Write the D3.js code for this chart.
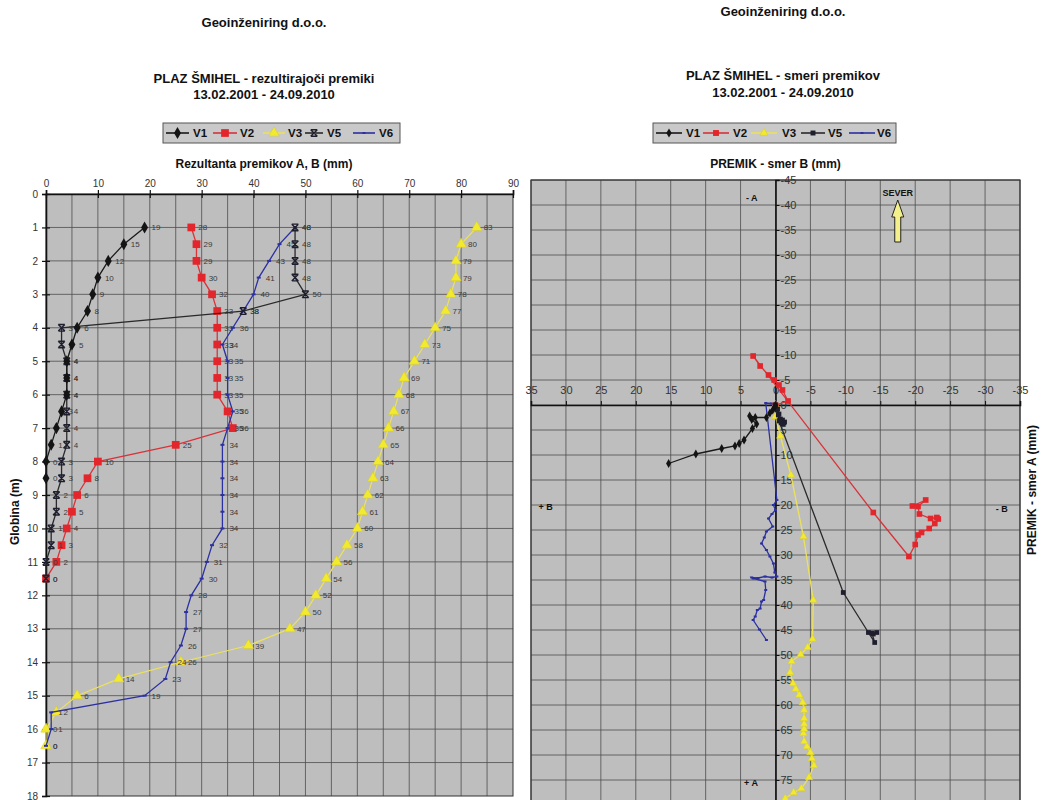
<!DOCTYPE html>
<html>
<head>
<meta charset="utf-8">
<script src="https://cdn.jsdelivr.net/npm/d3@7"></script>
<style>
  body { margin: 0; background: #fff; }
  svg { display: block; font-family: "Liberation Sans", Arial, sans-serif; }
</style>
</head>
<body>
<svg id="chart" width="1044" height="800"></svg>
<script>
// ---- left chart: resultant displacement (mm) per depth, depths start at 1 m, step 0.5 m
const depthStart = 1;
const depthStep = 0.5;
const v1Res = [19, 15, 12, 10, 9, 8, 6, 5, 4, 4, 4, 3, 2, 1, 0, 0];
const v2Res = [28, 29, 29, 30, 32, 33, 33, 33, 33, 33, 33, 35, 36, 25, 10, 8, 6, 5, 4, 3, 2, 0];
const v3Res = [83, 80, 79, 79, 78, 77, 75, 73, 71, 69, 68, 67, 66, 65, 64, 63, 62, 61, 60, 58, 56, 54, 52, 50, 47, 39, 26, 14, 6, 2, 0, 0];
const v5Res = [48, 48, 48, 48, 50, 38, 3, 3, 4, 4, 4, 4, 4, 4, 3, 3, 2, 2, 1, 1, 0, 0];
const v6Res = [48, 45, 43, 41, 40, 38, 36, 34, 35, 35, 35, 36, 35, 34, 34, 34, 34, 34, 34, 32, 31, 30, 28, 27, 27, 26, 24, 23, 19, 1, 1, 0];

// ---- right chart: direction B (mm) and A (mm) for the same depths
const v1B = [15.3, 11.4, 7.7, 5.8, 5.2, 4.5, 3.3, 2.7, 3.4, 3.7, 2.9, 1.3, 0.8, 0.4, 0.1, 0];
const v1A = [11.7, 9.8, 8.7, 8.2, 7.7, 7.0, 4.7, 3.8, 2.9, 2.2, 2.5, 2.5, 1.6, 1.0, 0.4, 0];
const v2B = [-19.6, -21.5, -20.4, -20.6, -22.2, -23.1, -23.3, -22.8, -22.0, -20.9, -20.4, -20.0, -19.1, -14.0, 3.2, 2.2, 1.0, 0.2, -0.5, -1.0, -1.8, 0];
const v2A = [20.2, 19.0, 20.3, 21.8, 22.7, 22.5, 22.8, 23.7, 24.7, 25.5, 26.0, 27.9, 30.3, 21.5, -9.8, -7.8, -6.0, -5.0, -4.0, -3.0, -0.8, 0];
const v3B = [0.5, -0.5, -1.4, -2.6, -3.7, -4.8, -5.5, -5.2, -5.0, -4.5, -4.1, -4.0, -4.1, -4.1, -4.1, -4.1, -3.9, -3.4, -2.9, -2.5, -2.1, -2.3, -3.6, -4.6, -5.3, -5.4, -4.0, -2.2, -0.7, 0, 0, 0];
const v3A = [83, 80, 78.7, 77.5, 76.7, 74.5, 72.1, 70.7, 69.5, 68.3, 67.3, 65.7, 64.8, 63.8, 62.7, 61.0, 59.5, 58.0, 56.8, 55.7, 53.5, 51.3, 49.9, 48.5, 46.8, 39.0, 26.3, 14.0, 6.2, 2.3, 0.5, 0];
const v5B = [-13.3, -14.5, -14.0, -13.8, -14.2, -9.7, -0.5, -1.0, -1.2, -1.0, -1.3, -0.9, -1.1, -0.8, -0.6, -0.7, -0.4, -0.5, -0.2, -0.3, 0, 0];
const v5A = [45.5, 45.5, 45.8, 45.6, 47.5, 37.5, 3.2, 3.0, 3.6, 3.8, 3.4, 3.6, 3.7, 3.5, 3.0, 2.8, 2.0, 1.8, 1.0, 0.8, 0.3, 0];
const v6B = [1.3, 2.3, 3.2, 2.9, 2.6, 2.2, 2.0, 1.7, 1.4, 1.5, 3.2, 3.4, 2.5, 1.5, 0.5, -0.2, 0.1, 0.3, 0.8, 1.3, 2.0, 1.6, 1.3, 0.4, 1.0, 0.5, 0.0, 0.3, -0.2, 1.4, 0.6, 0];
const v6A = [47.0, 44.9, 43.0, 42.3, 41.0, 40.7, 39.3, 39.0, 37.0, 35.3, 34.7, 34.5, 34.6, 34.3, 34.5, 34.3, 33.5, 31.7, 30.3, 29.0, 27.7, 26.5, 25.3, 24.3, 22.7, 21.8, 21.0, 20.0, 19.0, -0.4, -0.3, 0];

const seriesNames = ['V1', 'V2', 'V3', 'V5', 'V6'];
const leftXTicks = d3.range(0, 91, 10);
const leftYTicks = d3.range(0, 19, 1);
const rightTicksB = d3.range(-35, 36, 5);
const rightTicksA = d3.range(-45, 81, 5);

(() => {
  const svg = d3.select('#chart');
  const plotFill = '#bebebe';
  const gridColor = '#4d4d4d';
  const tickColor = '#333';

  const colors = { V1: '#141414', V2: '#e3262b', V3: '#f2ea2e', V5: '#1e1e2e', V6: '#2c30a0' };
  const lineColors = { V1: '#1a1a1a', V2: '#d9333a', V3: '#ece25a', V5: '#2a2a2a', V6: '#2c30a0' };

  const depthOf = (i) => depthStart + i * depthStep;

  // ---------- marker shapes ----------
  function marker(g, name, size) {
    const c = colors[name];
    if (name === 'V1') {
      g.append('path').attr('d', d3.symbol().type(d3.symbolDiamond).size(size * 7)).attr('fill', c);
    } else if (name === 'V2') {
      g.append('path').attr('d', d3.symbol().type(d3.symbolSquare).size(size * 10)).attr('fill', c);
    } else if (name === 'V3') {
      g.append('path').attr('d', d3.symbol().type(d3.symbolTriangle).size(size * 8))
        .attr('fill', c).attr('stroke', '#d8cc20').attr('stroke-width', 0.5);
    } else if (name === 'V5') {
      if (size > 4) {
        const s = size * 0.55;
        g.append('path')
          .attr('d', `M${-s},${-s}L${s},${s}M${s},${-s}L${-s},${s}M${-s},${-s}H${s}M${-s},${s}H${s}`)
          .attr('stroke', c).attr('stroke-width', 1.4).attr('fill', 'none');
      } else {
        g.append('path').attr('d', d3.symbol().type(d3.symbolSquare).size(size * 7)).attr('fill', c);
      }
    } else {
      g.append('rect').attr('x', -size * 0.5).attr('y', -1).attr('width', size).attr('height', 2).attr('fill', c);
    }
  }

  // ---------- titles ----------
  function title(x, y, text, size) {
    svg.append('text').attr('x', x).attr('y', y).attr('text-anchor', 'middle')
      .attr('font-size', size).attr('font-weight', 'bold').attr('fill', '#111').text(text);
  }
  title(264, 27, 'Geoinženiring d.o.o.', 13);
  title(264, 83, 'PLAZ ŠMIHEL - rezultirajoči premiki', 13);
  title(264, 99, '13.02.2001 - 24.09.2010', 13);
  title(783, 16, 'Geoinženiring d.o.o.', 13);
  title(783, 80, 'PLAZ ŠMIHEL - smeri premikov', 13);
  title(783, 97, '13.02.2001 - 24.09.2010', 13);

  // ---------- legends ----------
  function legend(x0, x1, y0, itemX, itemW, textX, markerSize) {
    const g = svg.append('g');
    g.append('rect').attr('x', x0).attr('y', y0).attr('width', x1 - x0).attr('height', 20)
      .attr('fill', '#c9c9c9').attr('stroke', '#555').attr('stroke-width', 1);
    seriesNames.forEach((name, i) => {
      const cy = y0 + 10;
      const w = itemW[i];
      g.append('line').attr('x1', itemX[i]).attr('x2', itemX[i] + w).attr('y1', cy).attr('y2', cy)
        .attr('stroke', lineColors[name]).attr('stroke-width', 1.6);
      marker(g.append('g').attr('transform', `translate(${itemX[i] + w / 2},${cy})`), name,
        name === 'V6' ? 3 : markerSize);
      g.append('text').attr('x', textX[i]).attr('y', cy + 4).attr('font-size', 11.5)
        .attr('font-weight', 'bold').attr('fill', '#111').text(name);
    });
  }
  legend(163, 400, 123, [166, 213, 263, 305, 353], [23, 24, 22, 18, 22], [193, 240, 288, 327, 379], 6);
  legend(653, 896, 123, [656, 703, 751, 801, 849], [26, 26, 26, 24, 26], [686, 733, 782, 828, 877], 3.5);

  // =============== LEFT CHART ===============
  const xL = d3.scaleLinear().domain([0, 90]).range([46, 513]);
  const yL = d3.scaleLinear().domain([0, 18]).range([194, 796]);

  const gL = svg.append('g');
  gL.append('rect').attr('x', xL(0)).attr('y', yL(0)).attr('width', xL(90) - xL(0)).attr('height', yL(18) - yL(0))
    .attr('fill', plotFill);
  gL.append('g').selectAll('line').data(d3.range(5, 90, 5)).join('line')
    .attr('x1', (d) => xL(d)).attr('x2', (d) => xL(d)).attr('y1', yL(0)).attr('y2', yL(18))
    .attr('stroke', gridColor).attr('stroke-width', 0.8);
  gL.append('g').selectAll('line').data(d3.range(1, 18, 1)).join('line')
    .attr('x1', xL(0)).attr('x2', xL(90)).attr('y1', (d) => yL(d)).attr('y2', (d) => yL(d))
    .attr('stroke', gridColor).attr('stroke-width', 0.8);
  gL.append('rect').attr('x', xL(0)).attr('y', yL(0)).attr('width', xL(90) - xL(0)).attr('height', yL(18) - yL(0))
    .attr('fill', 'none').attr('stroke', '#333').attr('stroke-width', 1);

  const axTop = gL.append('g').attr('transform', `translate(0,${yL(0)})`)
    .call(d3.axisTop(xL).tickValues(leftXTicks).tickSize(4).tickPadding(3).tickFormat((d) => String(d)));
  const axLeft = gL.append('g').attr('transform', `translate(${xL(0)},0)`)
    .call(d3.axisLeft(yL).tickValues(leftYTicks).tickSize(4).tickPadding(4).tickFormat((d) => String(d)));
  [axTop, axLeft].forEach((ax) => {
    ax.select('.domain').attr('stroke', '#111').attr('stroke-width', 1.6);
    ax.selectAll('.tick line').attr('stroke', '#111').attr('stroke-width', 1.2);
    ax.selectAll('.tick text').attr('fill', tickColor).attr('font-size', 10).attr('font-family', null);
  });
  axTop.selectAll('.tick line').attr('y2', 4).attr('y1', -4);
  axLeft.selectAll('.tick line').attr('x2', 4).attr('x1', -4);

  gL.append('text').attr('x', 264).attr('y', 168).attr('text-anchor', 'middle').attr('font-size', 12)
    .attr('font-weight', 'bold').attr('fill', '#111').text('Rezultanta premikov A, B (mm)');
  gL.append('text').attr('transform', `translate(19,${yL(9.5)}) rotate(-90)`).attr('text-anchor', 'middle')
    .attr('font-size', 12).attr('font-weight', 'bold').attr('fill', '#111').text('Globina (m)');

  const leftData = { V1: v1Res, V2: v2Res, V3: v3Res, V5: v5Res, V6: v6Res };
  const lineL = d3.line().x((d) => xL(d.v)).y((d) => yL(d.depth));
  ['V3', 'V2', 'V6', 'V5', 'V1'].forEach((name) => {
    const pts = leftData[name].map((v, i) => ({ v, depth: depthOf(i) }));
    const g = gL.append('g');
    g.append('path').datum(pts).attr('d', lineL).attr('fill', 'none')
      .attr('stroke', lineColors[name]).attr('stroke-width', name === 'V3' ? 1.2 : 1.3);
    g.selectAll('g.m').data(pts).join('g').attr('class', 'm')
      .attr('transform', (d) => `translate(${xL(d.v)},${yL(d.depth)})`)
      .each(function () { marker(d3.select(this), name, name === 'V6' ? 4 : 6); });
    g.selectAll('text').data(pts).join('text')
      .attr('x', (d) => xL(d.v) + 7).attr('y', (d) => yL(d.depth) + 3)
      .attr('font-size', 8).attr('fill', '#3a3a3a').text((d) => d.v);
  });

  // =============== RIGHT CHART ===============
  const xR = d3.scaleLinear().domain([35, -35]).range([531, 1020]);
  const yR = d3.scaleLinear().domain([-45, 80]).range([180, 805]);

  const gR = svg.append('g');
  gR.append('rect').attr('x', xR(35)).attr('y', yR(-45)).attr('width', xR(-35) - xR(35)).attr('height', yR(80) - yR(-45))
    .attr('fill', plotFill);
  gR.append('g').selectAll('line').data(rightTicksB).join('line')
    .attr('x1', (d) => xR(d)).attr('x2', (d) => xR(d)).attr('y1', yR(-45)).attr('y2', yR(80))
    .attr('stroke', gridColor).attr('stroke-width', 0.8);
  gR.append('g').selectAll('line').data(rightTicksA).join('line')
    .attr('x1', xR(35)).attr('x2', xR(-35)).attr('y1', (d) => yR(d)).attr('y2', (d) => yR(d))
    .attr('stroke', gridColor).attr('stroke-width', 0.8);
  gR.append('rect').attr('x', xR(35)).attr('y', yR(-45)).attr('width', xR(-35) - xR(35)).attr('height', yR(80) - yR(-45))
    .attr('fill', 'none').attr('stroke', '#333').attr('stroke-width', 1.2);

  const axB = gR.append('g').attr('transform', `translate(0,${yR(0)})`)
    .call(d3.axisTop(xR).tickValues(rightTicksB).tickSize(4).tickPadding(7).tickFormat((d) => String(d)));
  const axA = gR.append('g').attr('transform', `translate(${xR(0)},0)`)
    .call(d3.axisRight(yR).tickValues(rightTicksA).tickSize(4).tickPadding(1).tickFormat((d) => String(d)));
  [axB, axA].forEach((ax) => {
    ax.select('.domain').attr('stroke', '#111').attr('stroke-width', 1.6);
    ax.selectAll('.tick line').attr('stroke', '#111').attr('stroke-width', 1);
    ax.selectAll('.tick text').attr('fill', tickColor).attr('font-size', 11).attr('font-family', null);
  });

  gR.append('text').attr('x', xR(0)).attr('y', 168).attr('text-anchor', 'middle').attr('font-size', 12)
    .attr('font-weight', 'bold').attr('fill', '#111').text('PREMIK - smer B (mm)');
  gR.append('text').attr('transform', `translate(1036,${yR(17)}) rotate(-90)`).attr('text-anchor', 'middle')
    .attr('font-size', 12).attr('font-weight', 'bold').attr('fill', '#111').text('PREMIK - smer A (mm)');

  function note(b, a, text) {
    gR.append('text').attr('x', xR(b)).attr('y', yR(a)).attr('text-anchor', 'middle').attr('font-size', 9)
      .attr('font-weight', 'bold').attr('fill', '#111').text(text);
  }
  note(3.4, -40.8, '- A');
  note(3.5, 76.2, '+ A');
  note(32.9, 21.0, '+ B');
  note(-32.4, 21.4, '- B');
  note(-17.5, -41.8, 'SEVER');

  // north arrow
  const ax0 = xR(-17.5);
  const tipY = yR(-41.0);
  const headY = yR(-37.6);
  const baseY = yR(-32.6);
  gR.append('path')
    .attr('d', `M${ax0},${tipY}L${ax0 + 6},${headY}L${ax0 + 3},${headY}L${ax0 + 3},${baseY}L${ax0 - 3},${baseY}L${ax0 - 3},${headY}L${ax0 - 6},${headY}Z`)
    .attr('fill', '#f4f08c').attr('stroke', '#222').attr('stroke-width', 1);

  const rightData = {
    V1: [v1B, v1A], V2: [v2B, v2A], V3: [v3B, v3A], V5: [v5B, v5A], V6: [v6B, v6A]
  };
  const lineR = d3.line().x((d) => xR(d.b)).y((d) => yR(d.a));
  ['V3', 'V6', 'V2', 'V5', 'V1'].forEach((name) => {
    const [bs, as] = rightData[name];
    const pts = bs.map((b, i) => ({ b, a: as[i] }));
    const g = gR.append('g');
    g.append('path').datum(pts).attr('d', lineR).attr('fill', 'none')
      .attr('stroke', lineColors[name]).attr('stroke-width', 1.3);
    g.selectAll('g.m').data(pts).join('g').attr('class', 'm')
      .attr('transform', (d) => `translate(${xR(d.b)},${yR(d.a)})`)
      .each(function () { marker(d3.select(this), name, name === 'V6' ? 3 : 3.2); });
  });
})();
</script>
</body>
</html>
